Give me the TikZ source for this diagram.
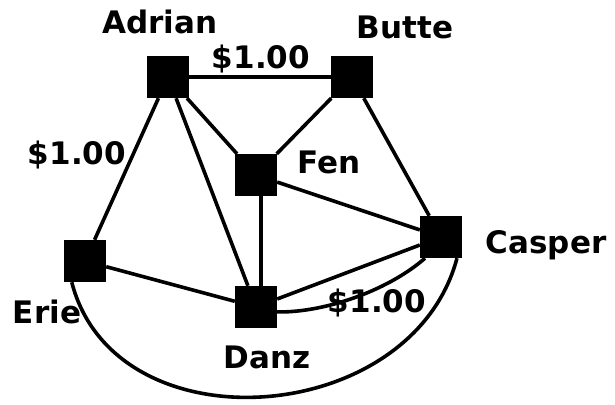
\documentclass[tikz,border=0pt]{standalone}
\usepackage{fontspec}
\setsansfont{DejaVu Sans}
\begin{document}
\begin{tikzpicture}[x=1pt,y=-1pt,
  city/.style={fill=black,draw=none,minimum size=42pt,inner sep=0pt},
  edge/.style={line width=3.6pt,black},
  lab/.style={anchor=base,inner sep=0pt,font=\sffamily\bfseries\fontsize{31}{31}\selectfont}]
\useasboundingbox (0,0) rectangle (615,404);
% nodes
\node[city] (A) at (168,77) {};
\node[city] (B) at (352,77) {};
\node[city] (F) at (256,175) {};
\node[city] (E) at (85,261) {};
\node[city] (D) at (256,307) {};
\node[city] (C) at (441,237) {};
% edges
\draw[edge] (A) -- (B);
\draw[edge] (A) -- (F);
\draw[edge] (B) -- (F);
\draw[edge] (A) -- (E);
\draw[edge] (A) -- (D);
\draw[edge] (B) -- (C);
\draw[edge] (F) -- (C);
\draw[edge] ([xshift=5pt]F.center) -- ([xshift=5pt]D.center);
\draw[edge] (E) -- (D);
\draw[edge] (D) -- (C);
\draw[edge] (D.-13) .. controls (320,313) and (385,293) .. (C.-127);
\draw[edge] (E.-122) .. controls (115,450) and (412,428) .. (C.-53);
% labels
\node[lab] (lA) at (160,34) {Adrian};
\node[lab] (lB) at (405,39) {Butte};
\node[lab] (lF) at (329,173) {Fen};
\node[lab] (lC) at (546,253) {Casper};
\node[lab] (lE) at (47,323) {Erie};
\node[lab] (lD) at (267,368) {Danz};
\node[lab] (w1) at (261,68) {\$1.00};
\node[lab] (w2) at (77,164) {\$1.00};
\node[lab] (w3) at (377,312) {\$1.00};
\end{tikzpicture}
\end{document}
